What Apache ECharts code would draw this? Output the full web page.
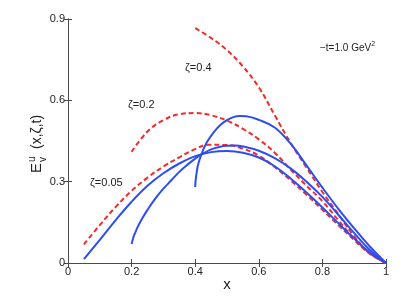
<!DOCTYPE html>
<html>
<head>
<meta charset="utf-8">
<script src="https://cdn.jsdelivr.net/npm/echarts@6/dist/echarts.min.js"></script>
<style>html,body{margin:0;padding:0;background:#fff}#c{width:409px;height:300px}</style>
</head>
<body>
<div id="c"></div>
<script>
// ---- data ----
var xTicks = [0, 0.2, 0.4, 0.6, 0.8, 1];
var yTicks = [0, 0.3, 0.6, 0.9];

// blue solid curves
var b05x = [0.05,0.1,0.15,0.2,0.25,0.3,0.35,0.4,0.45,0.5,0.55,0.6,0.65,0.7,0.75,0.8,0.85,0.9,0.95,1];
var b05y = [0.014,0.085,0.158,0.226,0.285,0.331,0.367,0.394,0.409,0.413,0.407,0.389,0.357,0.312,0.26,0.205,0.147,0.09,0.038,0];

var b20x = [0.2,0.205,0.21,0.22,0.235,0.25,0.275,0.3,0.325,0.35,0.375,0.4,0.425,0.45,0.475,0.5,0.525,0.55,0.6,0.65,0.7,0.75,0.8,0.85,0.9,0.95,1];
var b20y = [0.07,0.092,0.108,0.135,0.168,0.196,0.238,0.274,0.305,0.336,0.362,0.385,0.404,0.419,0.428,0.4325,0.433,0.43,0.414,0.387,0.349,0.3,0.244,0.178,0.11,0.047,0];

var b40x = [0.4,0.401,0.403,0.406,0.41,0.42,0.43,0.44,0.46,0.48,0.5,0.52,0.54,0.56,0.6,0.65,0.7,0.75,0.8,0.85,0.9,0.95,1];
var b40y = [0.28,0.3,0.32,0.345,0.367,0.402,0.43,0.452,0.485,0.51,0.527,0.538,0.542,0.541,0.528,0.5,0.44,0.36,0.278,0.2,0.128,0.06,0];

// red dashed curves
var r05x = [0.05,0.1,0.15,0.2,0.25,0.3,0.35,0.4,0.44,0.5,0.55,0.6,0.65,0.7,0.75,0.8,0.85,0.9,0.95,1];
var r05y = [0.069,0.14,0.207,0.266,0.315,0.356,0.39,0.42,0.436,0.435,0.422,0.396,0.354,0.305,0.252,0.196,0.14,0.085,0.033,0];

var r20x = [0.2,0.25,0.3,0.35,0.4,0.45,0.5,0.55,0.6,0.65,0.7,0.75,0.8,0.85,0.9,0.95,1];
var r20y = [0.41,0.485,0.527,0.549,0.553,0.545,0.525,0.495,0.456,0.407,0.345,0.285,0.228,0.158,0.09,0.035,0];

var r40x = [0.4,0.45,0.5,0.55,0.6,0.65,0.7,0.75,0.8,0.85,0.9,0.95,1];
var r40y = [0.866,0.83,0.785,0.725,0.648,0.545,0.443,0.352,0.262,0.18,0.098,0.035,0];

var labels = ['\u03b6=0.05', '\u03b6=0.2', '\u03b6=0.4'];

function pairs(xs, ys) { return xs.map(function (x, i) { return [x, ys[i]]; }); }

var BLUE = '#2b4df2', RED = '#f22a2a';
var FONT = 'Liberation Sans';

function fmt(v) { return v === 0 ? '0' : (v === 1 ? '1' : String(+v.toFixed(1))); }

var axisLine = { show: true, lineStyle: { color: '#4a4a4a', width: 1 } };
var tick = { show: true, inside: true, length: 4, lineStyle: { color: '#4a4a4a' } };

function solid(xs, ys) {
  return { type: 'line', data: pairs(xs, ys), showSymbol: false, smooth: 0.4,
    lineStyle: { color: BLUE, width: 2 }, itemStyle: { color: BLUE }, z: 3, animation: false };
}
function dashed(xs, ys) {
  return { type: 'line', data: pairs(xs, ys), showSymbol: false, smooth: 0.4,
    lineStyle: { color: RED, width: 2, type: [5, 3] }, itemStyle: { color: RED }, z: 2, animation: false };
}

var chart = echarts.init(document.getElementById('c'), null, { renderer: 'canvas' });
chart.setOption({
  animation: false,
  backgroundColor: '#fff',
  grid: { left: 68, right: 23, top: 19, bottom: 37, containLabel: false },
  xAxis: [
    { type: 'value', min: 0, max: 1, interval: 0.2, position: 'bottom',
      axisLine: axisLine, axisTick: tick, splitLine: { show: false },
      axisLabel: { color: '#222', fontSize: 11, fontFamily: FONT, margin: 3, formatter: fmt } },
    { type: 'value', min: 0, max: 1, interval: 0.2, position: 'top',
      axisLine: axisLine, axisTick: tick, splitLine: { show: false }, axisLabel: { show: false } }
  ],
  yAxis: [
    { type: 'value', min: 0, max: 0.9, interval: 0.3, position: 'left',
      axisLine: axisLine, axisTick: tick, splitLine: { show: false },
      axisLabel: { color: '#222', fontSize: 11, fontFamily: FONT, margin: 3, formatter: fmt } },
    { type: 'value', min: 0, max: 0.9, interval: 0.3, position: 'right',
      axisLine: axisLine, axisTick: tick, splitLine: { show: false }, axisLabel: { show: false } }
  ],
  series: [
    dashed(r05x, r05y), dashed(r20x, r20y), dashed(r40x, r40y),
    solid(b05x, b05y), solid(b20x, b20y), solid(b40x, b40y)
  ],
  graphic: [
    { type: 'text', left: 90, top: 177, style: { text: labels[0], fontSize: 11, fontFamily: FONT, fill: '#222' } },
    { type: 'text', left: 128, top: 99, style: { text: labels[1], fontSize: 11, fontFamily: FONT, fill: '#222' } },
    { type: 'text', left: 185, top: 62, style: { text: labels[2], fontSize: 11, fontFamily: FONT, fill: '#222' } },
    { type: 'text', x: 320, y: 48, style: { text: '\u2212t=1.0 GeV{s|2}', fontSize: 10, fontFamily: FONT, fill: '#222', verticalAlign: 'middle',
        rich: { s: { fontSize: 7, fontFamily: FONT, fill: '#222', padding: [0, 0, 7, 0] } } } },
    { type: 'text', x: 227, y: 285, style: { text: 'x', fontSize: 15, fontFamily: FONT, fill: '#222', align: 'center', verticalAlign: 'middle' } },
    { type: 'group', x: 37, y: 135, rotation: Math.PI / 2, children: [
      { type: 'text', x: -38, y: 0, style: { text: 'E', fontSize: 15, fontFamily: FONT, fill: '#222', verticalAlign: 'middle' } },
      { type: 'text', x: -27, y: -5, style: { text: 'u', fontSize: 10, fontFamily: FONT, fill: '#222', verticalAlign: 'middle' } },
      { type: 'text', x: -27, y: 6, style: { text: 'v', fontSize: 10, fontFamily: FONT, fill: '#222', verticalAlign: 'middle' } },
      { type: 'text', x: -14, y: 0, style: { text: '(x,\u03b6,t)', fontSize: 14, fontFamily: FONT, fill: '#222', verticalAlign: 'middle' } }
    ] }
  ]
});
</script>
</body>
</html>
